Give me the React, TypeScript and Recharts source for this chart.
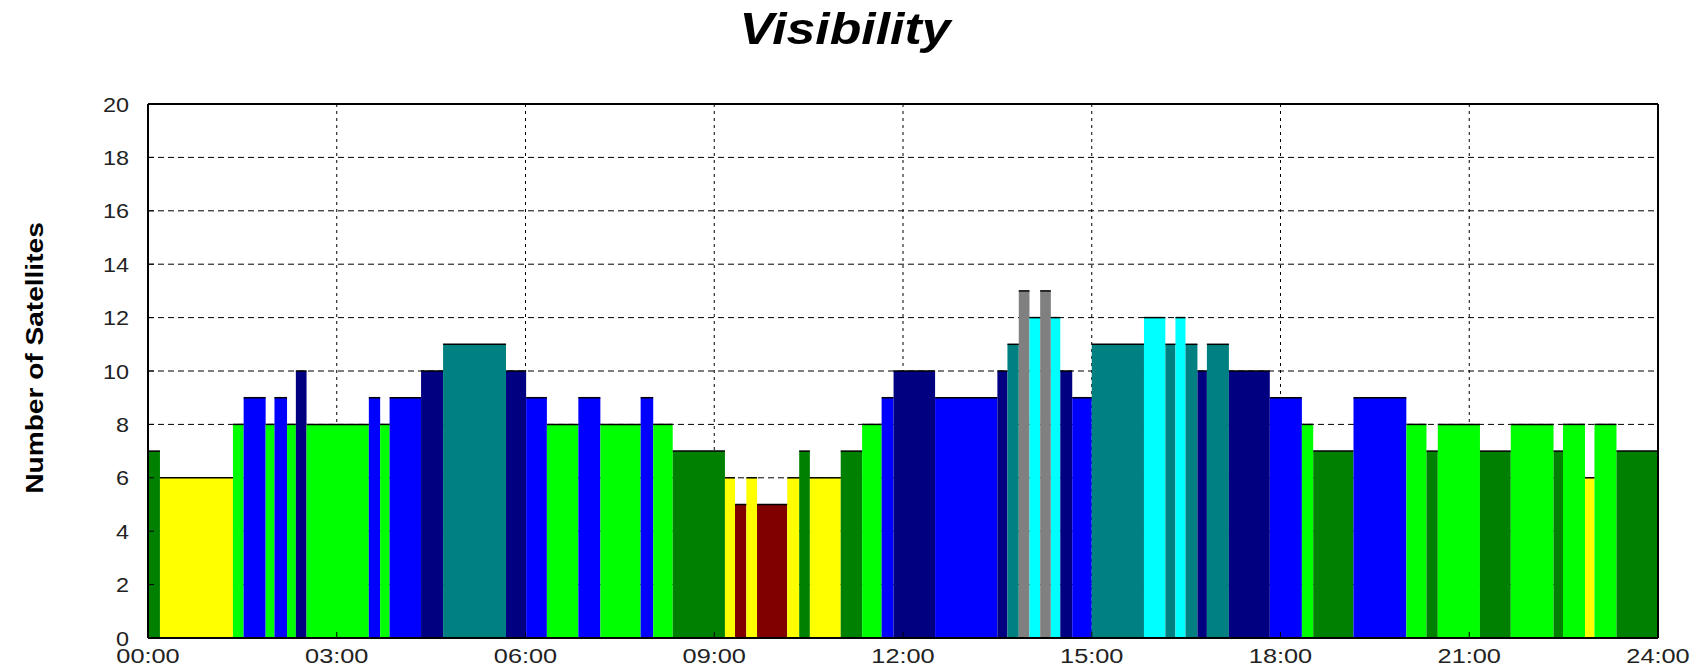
import React from "react";
import {
  ComposedChart,
  XAxis,
  YAxis,
  CartesianGrid,
  ReferenceArea,
  ReferenceLine,
} from "recharts";

// Segment start times (hours) and visible satellite counts; each segment ends where the next starts.
const segStart = [
  0, 0.19, 1.35, 1.52, 1.87, 2.01, 2.21, 2.35, 2.52, 3.51,
  3.69, 3.84, 4.34, 4.69, 5.69, 6.01, 6.34, 6.84, 7.19, 7.83,
  8.03, 8.34, 9.17, 9.33, 9.51, 9.68, 10.16, 10.35, 10.52, 11.01,
  11.35, 11.66, 11.85, 12.51, 13.5, 13.66, 13.84, 14.01, 14.18, 14.35,
  14.5, 14.69, 15.0, 15.83, 16.17, 16.33, 16.49, 16.68, 16.83, 17.18,
  17.83, 18.34, 18.52, 19.16, 20.0, 20.32, 20.5, 21.17, 21.66, 22.34,
  22.49, 22.84, 22.99, 23.34,
];
const segValue = [
  7, 6, 8, 9, 8, 9, 8, 10, 8, 9,
  8, 9, 10, 11, 10, 9, 8, 9, 8, 9,
  8, 7, 6, 5, 6, 5, 6, 7, 6, 7,
  8, 9, 10, 9, 10, 11, 13, 12, 13, 12,
  10, 9, 11, 12, 11, 12, 11, 10, 11, 10,
  9, 8, 7, 9, 8, 7, 8, 7, 8, 7,
  8, 6, 8, 7,
];
const dayEnd = 24;

const hourTicks = [0, 3, 6, 9, 12, 15, 18, 21, 24];
const countTicks = [0, 2, 4, 6, 8, 10, 12, 14, 16, 18, 20];
const gridHours = [3, 6, 9, 12, 15, 18, 21];
const gridCounts = [2, 4, 6, 8, 10, 12, 14, 16, 18];

const countColor: Record<number, string> = {
  5: "#800000",
  6: "#FFFF00",
  7: "#008000",
  8: "#00FF00",
  9: "#0000FF",
  10: "#000080",
  11: "#008080",
  12: "#00FFFF",
  13: "#808080",
};

const segments = segStart.map((s, i) => ({
  start: s,
  end: i + 1 < segStart.length ? segStart[i + 1] : dayEnd,
  value: segValue[i],
}));
const rows = segments.map((s) => ({ t: s.start, v: s.value }));

const W = 1703;
const H = 669;
const FONT = "'Liberation Sans', Arial, sans-serif";

const fmtHour = (h: number) => `${String(h).padStart(2, "0")}:00`;

const XTick = (props: any) => {
  const { x, y, payload } = props;
  return (
    <text
      x={0}
      y={0}
      transform={`translate(${x},${y}) scale(1.3,1)`}
      textAnchor="middle"
      fontFamily={FONT}
      fontSize={19.5}
      fill="#222"
    >
      {fmtHour(payload.value)}
    </text>
  );
};

const YTick = (props: any) => {
  const { x, y, payload } = props;
  return (
    <text
      x={0}
      y={0}
      transform={`translate(${x},${y + 7.5}) scale(1.2,1)`}
      textAnchor="end"
      fontFamily={FONT}
      fontSize={19.5}
      fill="#222"
    >
      {payload.value}
    </text>
  );
};

const EmptyTick = () => <g />;

export default function App() {
  return (
    <div style={{ position: "absolute", left: 0, top: 0, width: W, height: H, background: "#fff" }}>
      <div
        style={{
          position: "absolute",
          left: 845,
          top: 6,
          transform: "translateX(-50%) scaleX(1.15)",
          fontFamily: FONT,
          fontWeight: "bold",
          fontStyle: "italic",
          fontSize: 45,
          lineHeight: 1,
          whiteSpace: "nowrap",
          color: "#000",
        }}
      >
        Visibility
      </div>
      <div
        style={{
          position: "absolute",
          left: 35,
          top: 358,
          transform: "translate(-50%,-50%) rotate(-90deg) scaleX(1.17)",
          fontFamily: FONT,
          fontWeight: "bold",
          fontSize: 24,
          lineHeight: 1,
          whiteSpace: "nowrap",
          color: "#000",
        }}
      >
        Number of Satellites
      </div>
      <div style={{ position: "absolute", left: 0, top: 0 }}>
        <ComposedChart
          width={W}
          height={H}
          data={rows}
          margin={{ top: 104, right: 45, bottom: 1, left: 88 }}
        >
          <CartesianGrid
            horizontal={true}
            vertical={false}
            horizontalValues={gridCounts}
            stroke="#000"
            strokeDasharray="6 4"
          />
          <CartesianGrid
            horizontal={false}
            vertical={true}
            verticalValues={gridHours}
            stroke="#000"
            strokeDasharray="3 4"
          />
          <XAxis
            dataKey="t"
            type="number"
            domain={[0, 24]}
            ticks={hourTicks}
            allowDataOverflow
            height={30}
            tickSize={-6}
            tickMargin={31}
            tick={XTick}
            axisLine={{ stroke: "#000", strokeWidth: 2 }}
            tickLine={{ stroke: "#000" }}
            interval={0}
          />
          <YAxis
            type="number"
            domain={[0, 20]}
            ticks={countTicks}
            allowDataOverflow
            width={60}
            tickSize={-6}
            tickMargin={25}
            tick={YTick}
            axisLine={{ stroke: "#000", strokeWidth: 2 }}
            tickLine={{ stroke: "#000" }}
            interval={0}
          />
          <YAxis
            yAxisId="r"
            orientation="right"
            type="number"
            domain={[0, 20]}
            ticks={countTicks}
            width={0}
            tickSize={-6}
            tick={EmptyTick}
            axisLine={{ stroke: "#000", strokeWidth: 2 }}
            tickLine={{ stroke: "#000" }}
            interval={0}
          />
          {segments.map((s, i) => (
            <ReferenceArea
              key={`a${i}`}
              x1={s.start}
              x2={s.end}
              y1={0}
              y2={s.value}
              fill={countColor[s.value]}
              fillOpacity={1}
              stroke="none"
              ifOverflow="visible"
            />
          ))}
          {segments.map((s, i) => (
            <ReferenceLine
              key={`l${i}`}
              segment={[
                { x: s.start, y: s.value },
                { x: s.end, y: s.value },
              ]}
              stroke="#000"
              strokeWidth={1.5}
              ifOverflow="visible"
            />
          ))}
          <ReferenceLine y={20} stroke="#000" strokeWidth={2} />
          <ReferenceLine x={24} stroke="#000" strokeWidth={2} />
        </ComposedChart>
      </div>
    </div>
  );
}
